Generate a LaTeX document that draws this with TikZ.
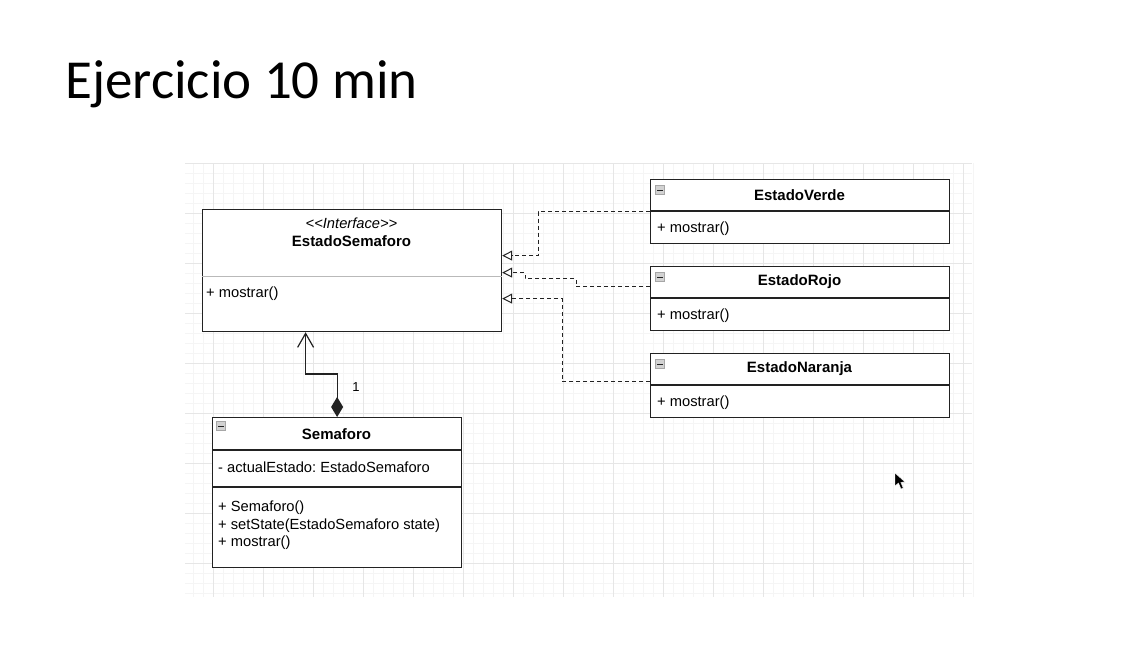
\documentclass[tikz,border=0pt]{standalone}
\usepackage{fontspec}
\setmainfont{Liberation Sans}
\newfontfamily\titlefont{Carlito}
\usetikzlibrary{arrows.meta,calc}
\definecolor{minorgrid}{HTML}{F5F5F5}
\definecolor{majorgrid}{HTML}{E6E6E6}
\definecolor{boxline}{HTML}{222222}
\tikzset{
  umlbox/.style={draw=boxline, line width=1.2pt, fill=white, inner sep=0pt, anchor=north west},
  divline/.style={draw=boxline, line width=1.1pt},
  softdiv/.style={draw=gray!55, line width=1pt},
  uml/.style={font=\fontsize{14.7}{17.5}\selectfont, inner sep=0pt},
  umlbold/.style={font=\fontsize{15}{17.5}\selectfont\bfseries, inner sep=0pt},
  realize/.style={draw=boxline, line width=1pt, dash pattern=on 4pt off 3pt,
     -{Triangle[open,length=10pt,width=10pt,fill=white]}},
  compose/.style={draw=boxline, line width=1.2pt,
     {Diamond[length=20pt,width=12pt]}-{Straight Barb[length=14pt,width=16pt]}},
  iconbox/.style={draw=gray!70, fill=gray!35, minimum size=9pt, inner sep=0pt},
}
\begin{document}
\frenchspacing
\begin{tikzpicture}[x=1pt,y=-1pt]
\useasboundingbox (0,0) rectangle (1142,661);
\fill[white] (0,0) rectangle (1142,661);
% grid
\foreach \x in {193,203,...,973} \draw[minorgrid, line width=0.5pt] (\x,163) -- (\x,597);
\foreach \y in {163,173,...,597} \draw[minorgrid, line width=0.5pt] (185,\y) -- (972,\y);
\foreach \x in {213,263,...,963} \draw[majorgrid, line width=0.8pt] (\x,163) -- (\x,597);
\foreach \y in {163,213,...,563} \draw[majorgrid, line width=0.8pt] (185,\y) -- (972,\y);
% title
\node[anchor=base west, inner sep=0pt, font=\titlefont\fontsize{55}{60}\selectfont] (title) at (65,98) {Ejercicio 10 min};
% interface box
\node[umlbox, minimum width=299pt, minimum height=122pt] (iface) at (202,209) {};
\draw[softdiv] (iface.west |- 0,276) -- (iface.east |- 0,276);
\node[uml, font=\fontsize{14.7}{17.5}\selectfont\itshape] (stereo) at (351.5,223) {<\kern0pt<Interface>\kern0pt>};
\node[umlbold] (ifacename) at (351.5,241) {EstadoSemaforo};
\node[uml, anchor=west] (ifacem) at (206,294) {+ mostrar()};
% right boxes
\foreach \nm/\lbl/\top in {verde/EstadoVerde/179, rojo/EstadoRojo/266, naranja/EstadoNaranja/353}{
  \node[umlbox, minimum width=299pt, minimum height=64pt] (\nm) at (650,\top) {};
  \draw[divline] (650,\top+32) -- (949,\top+32);
  \node[umlbold] (\nm title) at (799.5,\top+16) {\lbl};
  \node[uml, anchor=west] (\nm m) at (657,\top+50) {+ mostrar()};
  \node[iconbox] (\nm icon) at (660,\top+11) {};
  \draw[boxline, line width=1pt] (657,\top+11) -- (663,\top+11);
}
% Semaforo box
\node[umlbox, minimum width=249pt, minimum height=150pt] (sem) at (212,417) {};
\draw[divline] (212,450) -- (461,450);
\draw[divline] (212,487) -- (461,487);
\node[umlbold] (semtitle) at (336.5,434) {Semaforo};
\node[uml, anchor=west] (semattr) at (218,467) {- actualEstado: EstadoSemaforo};
\node[uml, anchor=north west, align=left] (semops) at (218,501) {+ Semaforo()\\+ setState(EstadoSemaforo state)\\+ mostrar()};
\node[iconbox] (semicon) at (221,426) {};
\draw[boxline, line width=1pt] (218,426) -- (224,426);
% realization connectors
\draw[realize] (verde.west) -- ++(-112,0) |- ([yshift=15pt]iface.east);
\draw[realize] ([yshift=12pt]rojo.west) -- ++(-74,0) -- ++(0,-8) -- ++(-51,0) -- ++(0,-6) -- ([yshift=-2pt]iface.east);
\draw[realize] ([yshift=4pt]naranja.west) -- ++(-88,0) |- ([yshift=-28pt]iface.east);
% composition
\draw[compose] (sem.north) -- ++(0,-43) -| ([xshift=-46.5pt]iface.south);
\node[uml, font=\fontsize{13}{15}\selectfont] (mult) at (356,387) {1};
% cursor
\filldraw[black, draw=white, line width=0.4pt] (895,473) -- (895,486) -- (898.5,483) -- (901,489) -- (903.2,488) -- (900.8,482.3) -- (905,482) -- cycle;
\end{tikzpicture}
\end{document}
